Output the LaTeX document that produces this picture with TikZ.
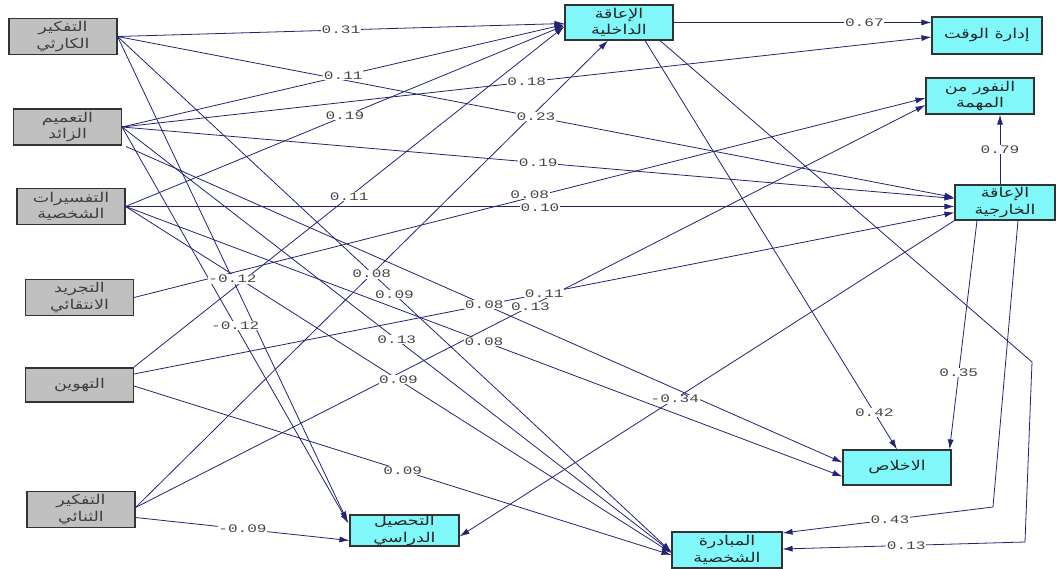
\documentclass[tikz,border=0pt]{standalone}
\usepackage{fontspec}
\usetikzlibrary{arrows.meta,calc}
\TeXXeTstate=1
\newfontfamily\arabicfont[Script=Arabic,FakeStretch=1.3]{DejaVu Sans}
\newfontfamily\lblfont[FakeStretch=1.4]{Liberation Mono}
\definecolor{edgec}{RGB}{35,35,115}
\definecolor{grayfill}{RGB}{192,192,192}
\definecolor{cyanfill}{RGB}{128,248,250}
\definecolor{lblc}{RGB}{70,70,70}
\tikzset{
  boxbase/.style={draw=black!80, line width=1.1pt, inner sep=0pt, align=center,
    font=\arabicfont\fontsize{13.5}{16.5}\selectfont},
  lbox/.style={boxbase, fill=grayfill, text=black!75, minimum width=108pt, minimum height=36pt},
  rbox/.style={boxbase, fill=cyanfill, text=black!85, minimum width=108pt, minimum height=35pt},
  conn/.style={draw=edgec, line width=0.8pt, -{Latex[length=10pt,width=6pt]}},
  wlbl/.style={fill=white, inner sep=0.6pt, font=\lblfont\fontsize{11.5}{11.5}\selectfont, text=lblc}
}
\begin{document}
\begin{tikzpicture}[x=1pt,y=-1pt]
\useasboundingbox (0,0) rectangle (1058,569);
% left (exogenous) boxes
\node[lbox] (kar) at (63,36.5) {\beginR التفكير\endR\\\beginR الكارثي\endR};
\node[lbox] (tam) at (67.5,127) {\beginR التعميم\endR\\\beginR الزائد\endR};
\node[lbox] (taf) at (71,206.5) {\beginR التفسيرات\endR\\\beginR الشخصية\endR};
\node[lbox] (taj) at (79.5,297.5) {\beginR التجريد\endR\\\beginR الانتقائي\endR};
\node[lbox, minimum height=34pt] (tah) at (79.5,385) {\beginR التهوين\endR};
\node[lbox] (tha) at (81,509.5) {\beginR التفكير\endR\\\beginR الثنائي\endR};
% right (endogenous) boxes
\node[rbox] (intr) at (619,22.5) {\beginR الإعاقة\endR\\\beginR الداخلية\endR};
\node[rbox, minimum width=110pt, minimum height=37pt] (time) at (987,35.5) {\beginR إدارة الوقت\endR};
\node[rbox, minimum height=36pt] (avers) at (980,96) {\beginR النفور من\endR\\\beginR المهمة\endR};
\node[rbox, minimum width=100pt] (extr) at (1005,202.5) {\beginR الإعاقة\endR\\\beginR الخارجية\endR};
\node[rbox] (ikh) at (897,467.5) {\beginR الاخلاص\endR};
\node[rbox, minimum width=110pt, minimum height=36pt] (mub) at (727,550) {\beginR المبادرة\endR\\\beginR الشخصية\endR};
\node[rbox, minimum width=109pt, minimum height=31pt] (tah2) at (404.5,530.5) {\beginR التحصيل\endR\\\beginR الدراسي\endR};
% bend points
\coordinate (bA) at (1032,362);
\coordinate (bB) at (1025,542);
\coordinate (bC) at (993,507);
% connectors
\draw[conn] (kar.east) -- coordinate (e1) ($(intr.west)+(0,1)$);
\draw[conn] (tam.east) -- coordinate (e2) ($(intr.west)+(0,2)$);
\draw[conn] (taf.east) -- coordinate (e3) ($(intr.west)+(0,3)$);
\draw[conn] ($(tah.east)+(0,-18)$) -- coordinate (e4) ($(intr.west)+(0,4)$);
\draw[conn] ($(tha.east)+(0,-2)$) -- coordinate (e5) ($(intr.south)+(-11,0)$);
\draw[conn] (tam.east) -- coordinate (e6) ($(time.west)+(0,1.5)$);
\draw[conn] (kar.east) -- coordinate (e7) ($(extr.west)+(0,-5)$);
\draw[conn] (tam.east) -- coordinate (e8) ($(extr.west)+(0,-4)$);
\draw[conn] (taf.east) -- coordinate (e9) ($(extr.west)+(0,4)$);
\draw[conn] ($(tah.east)+(0,-11)$) -- coordinate (e10) ($(extr.west)+(0,10)$);
\draw[conn] (taj.east) -- coordinate (e11) ($(avers.west)+(0,2)$);
\draw[conn] ($(tha.east)+(0,-2)$) -- coordinate (e12) ($(avers.west)+(0,9)$);
\draw[conn] (kar.east) -- coordinate (e13) ($(mub.west)+(0,2)$);
\draw[conn] (tam.east) -- coordinate (e14) ($(mub.west)+(0,2)$);
\draw[conn] (taf.east) -- coordinate (e15) ($(mub.west)+(0,3)$);
\draw[conn] ($(tah.east)+(0,1)$) -- coordinate (e16) ($(mub.west)+(0,5)$);
\draw[conn] ($(tam.south east)+(4,1)$) -- coordinate (e17) ($(ikh.west)+(0,-5)$);
\draw[conn] (taf.east) -- coordinate (e18) ($(ikh.west)+(0,9)$);
\draw[conn] (kar.east) -- coordinate (e19) ($(tah2.west)+(-2,-9)$);
\draw[conn] (tam.east) -- coordinate (e20) ($(tah2.west)+(-1,-7)$);
\draw[conn] ($(tha.east)+(0,8)$) -- coordinate (e21) ($(tah2.west)+(0,10)$);
\draw[conn] (extr.south west) -- coordinate[pos=0.565] (e22) ($(tah2.east)+(0,6)$);
\draw[conn] (intr.east) -- coordinate[pos=0.74] (e23) ($(time.west)+(0,-13)$);
\draw[conn] ($(intr.south)+(26,0)$) -- coordinate[pos=0.91] (e24) (ikh.north);
\draw[conn] ($(intr.south)+(41,0)$) -- (bA) -- (bB) -- coordinate[pos=0.49] (e25) ($(mub.east)+(0,-1)$);
\draw[conn] ($(extr.north)+(-5,0)$) -- coordinate (e26) ($(avers.south)+(20,0)$);
\draw[conn] ($(extr.south)+(-28,0)$) -- coordinate[pos=0.665] (e27) ($(ikh.north east)+(-2,0)$);
\draw[conn] ($(extr.south)+(13,0)$) -- (bC) -- coordinate[pos=0.49] (e28) ($(mub.east)+(0,-17)$);
% coefficient labels
\node[wlbl] (l1) at (e1) {0.31};
\node[wlbl] (l2) at (e2) {0.11};
\node[wlbl] (l3) at (e3) {0.19};
\node[wlbl] (l4) at (e4) {0.11};
\node[wlbl] (l5) at (e5) {0.08};
\node[wlbl] (l6) at (e6) {0.18};
\node[wlbl] (l7) at (e7) {0.23};
\node[wlbl] (l8) at (e8) {0.19};
\node[wlbl] (l9) at ($(e9)+(0,1.5)$) {0.10};
\node[wlbl] (l10) at (e10) {0.11};
\node[wlbl] (l11) at ($(e11)+(0,-3)$) {0.08};
\node[wlbl] (l12) at (e12) {0.13};
\node[wlbl] (l13) at (e13) {0.09};
\node[wlbl] (l14) at (e14) {0.13};
\node[wlbl] (l15) at (e15) {0.09};
\node[wlbl] (l16) at (e16) {0.09};
\node[wlbl] (l17) at (e17) {0.08};
\node[wlbl] (l18) at (e18) {0.08};
\node[wlbl] (l19) at (e19) {-0.12};
\node[wlbl] (l20) at (e20) {-0.12};
\node[wlbl] (l21) at (e21) {-0.09};
\node[wlbl] (l22) at (e22) {-0.34};
\node[wlbl] (l23) at (e23) {0.67};
\node[wlbl] (l24) at (e24) {0.42};
\node[wlbl] (l25) at (e25) {0.13};
\node[wlbl] (l26) at (e26) {0.79};
\node[wlbl] (l27) at (e27) {0.35};
\node[wlbl] (l28) at (e28) {0.43};
\end{tikzpicture}
\end{document}
